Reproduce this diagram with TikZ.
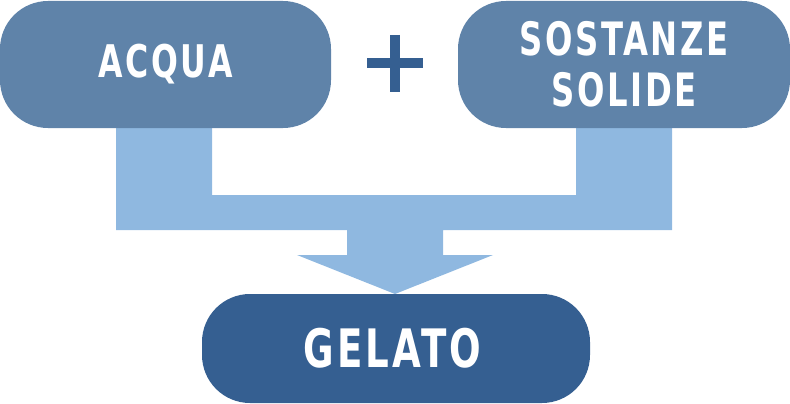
\documentclass[tikz,border=0pt]{standalone}
\usepackage{fontspec}
\newfontfamily\labfont{DejaVu Sans Condensed}[LetterSpace=6,FakeStretch=0.78]
\definecolor{boxlight}{HTML}{5F83A9}
\definecolor{boxdark}{HTML}{355F91}
\definecolor{flow}{HTML}{8FB8E0}
\tikzset{
  pill/.style={rectangle, rounded corners=48pt, inner sep=0pt, text=white, align=center,
    font=\labfont\bfseries},
}
\begin{document}
\begin{tikzpicture}[x=1pt,y=-1pt]
\useasboundingbox (0,0) rectangle (790,404);
% connector
\fill[flow] (116,127) -- (212,127) -- (212,195) -- (576,195) -- (576,127) -- (672,127)
  -- (672,230) -- (443,230) -- (443,255) -- (493,255) -- (395,294) -- (297,255)
  -- (347,255) -- (347,230) -- (116,230) -- cycle;
\node[pill, fill=boxlight, minimum width=331pt, minimum height=127pt,
  font=\labfont\bfseries\fontsize{45}{50}\selectfont] (acqua) at (165.5,64.5) {ACQUA};
\node[pill, fill=boxlight, minimum width=332pt, minimum height=127pt,
  font=\labfont\bfseries\fontsize{46}{51}\selectfont] (solide) at (624,64.5)
  {\raisebox{-3pt}{SOSTANZE}\\\raisebox{-3pt}{SOLIDE}};
\node[pill, fill=boxdark, minimum width=388pt, minimum height=109pt,
  font=\labfont\bfseries\fontsize{53}{55}\selectfont] (gelato) at (396,348.5)
  {\raisebox{-1pt}{GELATO}\hspace*{7pt}};
\coordinate (plus) at (395,63.5);
\draw[boxdark, line width=10pt] ([xshift=-28pt]plus) -- ([xshift=28pt]plus);
\draw[boxdark, line width=10pt] ([yshift=28.5pt]plus) -- ([yshift=-28.5pt]plus);
\end{tikzpicture}
\end{document}
